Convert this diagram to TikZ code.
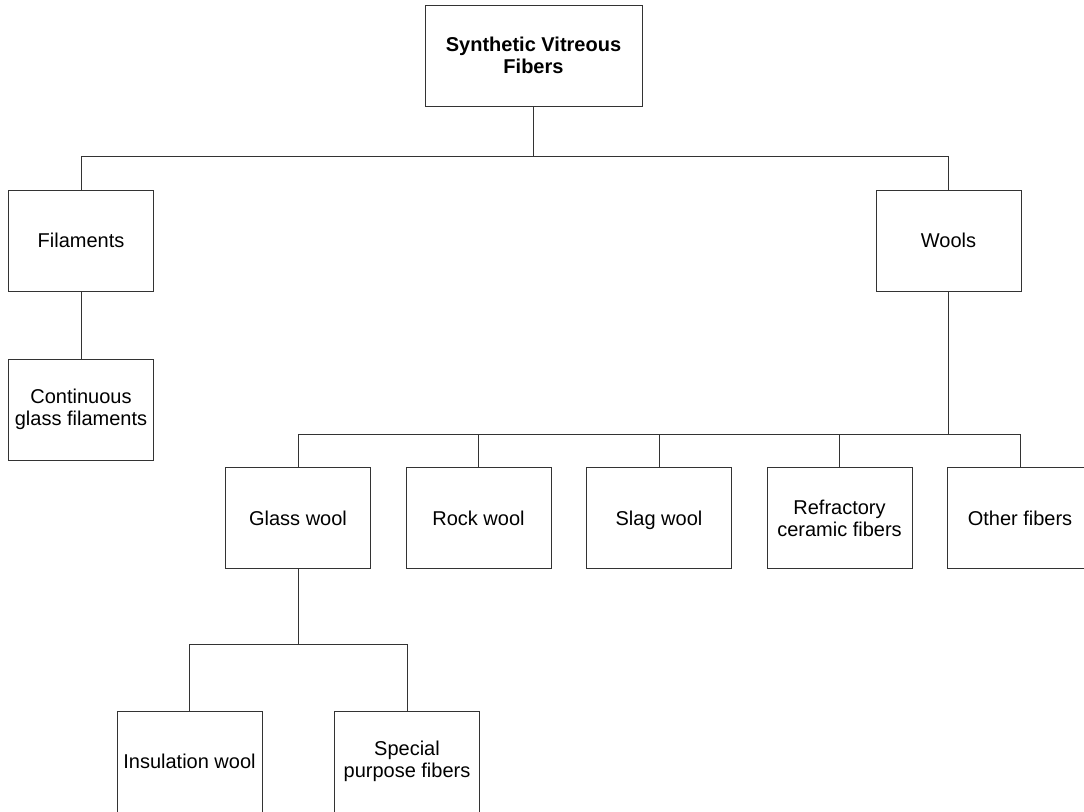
\documentclass[tikz,border=0pt]{standalone}
\usepackage{fontspec}
\setmainfont{Liberation Sans}
\usetikzlibrary{positioning}

\begin{document}
\begin{tikzpicture}[x=0.5pt, y=-0.5pt, node distance={18pt},
  box/.style = {draw=black!80, line width=0.5pt, minimum width=72.5pt, minimum height=50.5pt, align=center, inner sep=1pt, font=\fontsize{10}{11}\selectfont},
  link/.style = {draw=black!80, line width=0.5pt}]
	\useasboundingbox (0,0) rectangle (1084,811);
	\clip (0,0) rectangle (1084,811);
		% top level
		\node[box, minimum width=108.5pt, font=\bfseries\fontsize{10}{11}\selectfont] (svf) at (533.5,55.5) {Synthetic Vitreous\\Fibers};
		\node[box] (fil) at (81,240.5) {Filaments};
		\node[box] (wool) at (948.5,240.5) {Wools};
		\node[box] (cont) [below=33.5pt of fil] {Continuous\\glass filaments};
		% wools row
		\node[box] (glass) at (298,518) {Glass wool};
		\node[box, on grid] (rock) [right=90.25pt of glass] {Rock wool};
		\node[box, on grid, text depth=0pt] (slag) [right=90.25pt of rock] {Slag wool};
		\node[box, on grid] (refr) [right=90.25pt of slag] {Refractory\\ceramic fibers};
		\node[box, on grid] (other) [right=90.25pt of refr] {Other fibers};
		% glass wool row
		\node[box] (insul) at (189.5,761.5) {Insulation wool};
		\node[box, on grid] (spec) [right=108.75pt of insul] {Special\\purpose fibers};
		% connectors
		\coordinate (j1) at (533.5,156);
		\coordinate (j2) at (948.5,434);
		\coordinate (j3) at (298,644);
		\draw[link] (svf) to (j1);
		\draw[link] (fil) |- (j1) -| (wool);
		\draw[link] (fil) to (cont);
		\draw[link] (wool) to (j2);
		\draw[link] (glass) |- (j2) -| (other);
		\foreach \n in {rock,slag,refr}
			\draw[link] (\n) to (\n |- j2);
		\draw[link] (glass) to (j3);
		\draw[link] (insul) |- (j3) -| (spec);
	\end{tikzpicture}
\end{document}
